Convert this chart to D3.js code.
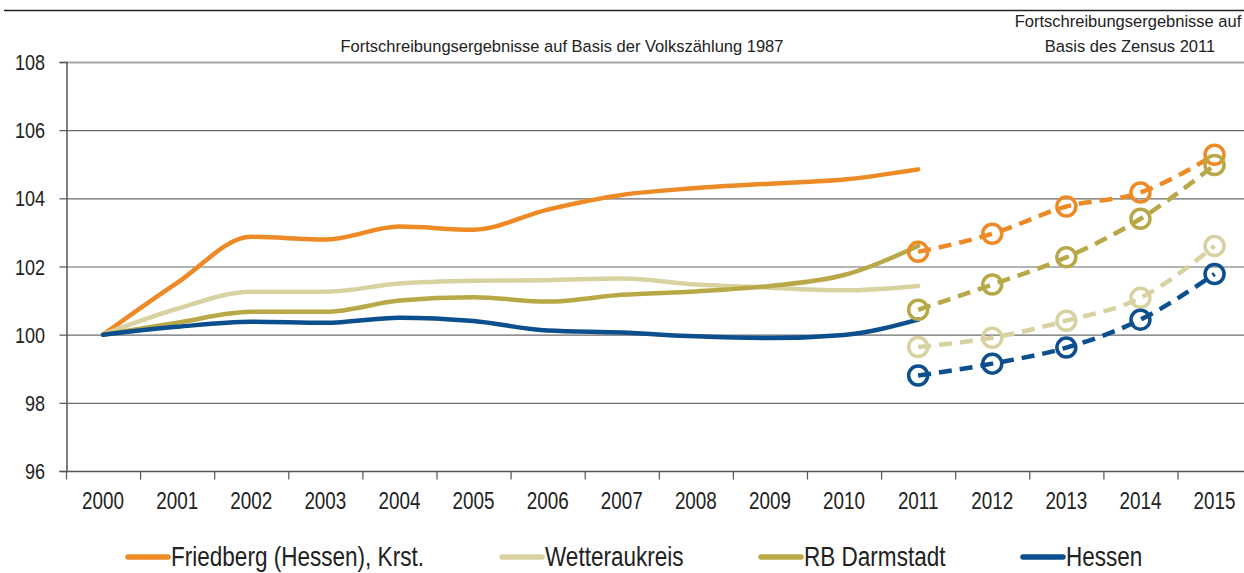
<!DOCTYPE html>
<html>
<head>
<meta charset="utf-8">
<script src="https://cdn.jsdelivr.net/npm/d3@7"></script>
<style>
  body { margin: 0; background: #fff; }
  svg { display: block; font-family: "Liberation Sans", Arial, sans-serif; }
</style>
</head>
<body>
<div id="chart"></div>
<script>
var years = ["2000","2001","2002","2003","2004","2005","2006","2007","2008","2009","2010","2011","2012","2013","2014","2015"]
var yearsOld = years.slice(0, 12)
var yearsNew = years.slice(11)
var yTicks = [96, 98, 100, 102, 104, 106, 108]

// Basis Volkszählung 1987 (2000-2011)
var friedbergOld = [100, 101.52, 102.87, 102.79, 103.17, 103.08, 103.67, 104.1, 104.3, 104.43, 104.55, 104.85]
var wetterauOld  = [100, 100.76, 101.26, 101.26, 101.5, 101.58, 101.6, 101.65, 101.47, 101.38, 101.3, 101.43]
var darmstadtOld = [100, 100.35, 100.67, 100.67, 101.0, 101.1, 100.97, 101.17, 101.27, 101.43, 101.75, 102.6]
var hessenOld    = [100, 100.23, 100.38, 100.35, 100.5, 100.4, 100.12, 100.06, 99.95, 99.9, 99.99, 100.44]

// Basis Zensus 2011 (2011-2015)
var friedbergNew = [102.43, 102.96, 103.76, 104.17, 105.28]
var wetterauNew  = [99.64, 99.91, 100.41, 101.08, 102.6]
var darmstadtNew = [100.73, 101.47, 102.27, 103.4, 104.98]
var hessenNew    = [98.8, 99.15, 99.62, 100.44, 101.78]

var seriesNames = ["Friedberg (Hessen), Krst.", "Wetteraukreis", "RB Darmstadt", "Hessen"]
var seriesColors = ["#ee8a26", "#d8d2a0", "#b9a847", "#0b4f8e"]

var series = [
  { name: seriesNames[0], color: seriesColors[0], old: friedbergOld, neu: friedbergNew },
  { name: seriesNames[1], color: seriesColors[1], old: wetterauOld, neu: wetterauNew },
  { name: seriesNames[2], color: seriesColors[2], old: darmstadtOld, neu: darmstadtNew },
  { name: seriesNames[3], color: seriesColors[3], old: hessenOld, neu: hessenNew }
]

var width = 1244, height = 573

var svg = d3.select("#chart").append("svg")
  .attr("width", width)
  .attr("height", height)

// squeezed text helper (Arial Narrow look)
function ntext(g, tx, ty, size, anchor, str, sx) {
  return g.append("text")
    .attr("transform", "translate(" + tx + "," + ty + ") scale(" + (sx || 0.82) + ",1)")
    .attr("text-anchor", anchor)
    .attr("font-size", size)
    .attr("fill", "#222")
    .text(str)
}

var x = d3.scaleBand().domain(years).range([66, 66 + 16 * 74.1])
var y = d3.scaleLinear().domain([96, 108]).range([471, 62])

// top separator
svg.append("line")
  .attr("x1", 4).attr("x2", width)
  .attr("y1", 10.5).attr("y2", 10.5)
  .attr("stroke", "#222").attr("stroke-width", 1.5)

// grid
svg.append("g").selectAll("line").data(yTicks.filter(function(d){ return d > 96 }))
  .enter().append("line")
  .attr("x1", 66).attr("x2", width)
  .attr("y1", function(d){ return y(d) + 0.5 })
  .attr("y2", function(d){ return y(d) + 0.5 })
  .attr("stroke", function(d){ return d === 108 ? "#a6a6a6" : "#6b6b6b" })
  .attr("stroke-width", function(d){ return d === 108 ? 2 : 1.2 })

// y axis
var yAxis = d3.axisLeft(y).tickValues(yTicks).tickSize(7).tickFormat("")
svg.append("g")
  .attr("transform", "translate(66.5,0)")
  .call(yAxis)
  .call(function(g){
    g.select(".domain").attr("stroke", "#555").attr("stroke-width", 1.5)
    g.selectAll(".tick line").attr("stroke", "#555").attr("stroke-width", 1.2)
  })
var yLab = svg.append("g")
yTicks.forEach(function(t){
  ntext(yLab, 45, y(t) + 8, 22, "end", String(t))
})

// x axis with ticks at band boundaries
var xAxisG = svg.append("g").attr("transform", "translate(0,471.5)")
xAxisG.append("line")
  .attr("x1", 66).attr("x2", width)
  .attr("stroke", "#555").attr("stroke-width", 1.5)
xAxisG.selectAll(".tk").data(years)
  .enter().append("line")
  .attr("class", "tk")
  .attr("x1", function(d){ return x(d) + 0.5 })
  .attr("x2", function(d){ return x(d) + 0.5 })
  .attr("y1", 0).attr("y2", 8)
  .attr("stroke", "#555").attr("stroke-width", 1.2)
years.forEach(function(yr){
  ntext(xAxisG, x(yr) + x.bandwidth() / 2, 37, 23, "middle", yr)
})

// annotations
ntext(svg, 562, 52, 17.2, "middle", "Fortschreibungsergebnisse auf Basis der Volkszählung 1987", 0.96)
ntext(svg, 1128, 27, 17.2, "middle", "Fortschreibungsergebnisse auf", 0.96)
ntext(svg, 1130, 52, 17.2, "middle", "Basis des Zensus 2011", 0.96)

var cx = function(yr){ return x(yr) + x.bandwidth() / 2 }

var lineOld = d3.line()
  .x(function(d, i){ return cx(yearsOld[i]) })
  .y(function(d){ return y(d) })
  .curve(d3.curveMonotoneX)
var lineNew = d3.line()
  .x(function(d, i){ return cx(yearsNew[i]) })
  .y(function(d){ return y(d) })
  .curve(d3.curveMonotoneX)

// draw order: Friedberg, Wetterau, Darmstadt, Hessen (Hessen on top)
var plot = svg.append("g")
series.forEach(function(s){
  plot.append("path")
    .attr("d", lineOld(s.old))
    .attr("fill", "none")
    .attr("stroke", s.color)
    .attr("stroke-width", 4.5)
    .attr("stroke-linecap", "round")
})
series.forEach(function(s){
  plot.append("path")
    .attr("d", lineNew(s.neu))
    .attr("fill", "none")
    .attr("stroke", s.color)
    .attr("stroke-width", 4.5)
    .attr("stroke-dasharray", "13,8")
  plot.selectAll(null).data(s.neu)
    .enter().append("circle")
    .attr("cx", function(d, i){ return cx(yearsNew[i]) })
    .attr("cy", function(d){ return y(d) })
    .attr("r", 9.5)
    .attr("fill", "none")
    .attr("stroke", s.color)
    .attr("stroke-width", 3.5)
})

// legend
var legendX = [126, 500, 759, 1021]
var legend = svg.append("g")
series.forEach(function(s, i){
  legend.append("line")
    .attr("x1", legendX[i] + 2).attr("x2", legendX[i] + 42)
    .attr("y1", 557).attr("y2", 557)
    .attr("stroke", s.color)
    .attr("stroke-width", 5.5)
    .attr("stroke-linecap", "round")
  ntext(legend, legendX[i] + 45, 566, 27.5, "start", s.name)
})
</script>
</body>
</html>
